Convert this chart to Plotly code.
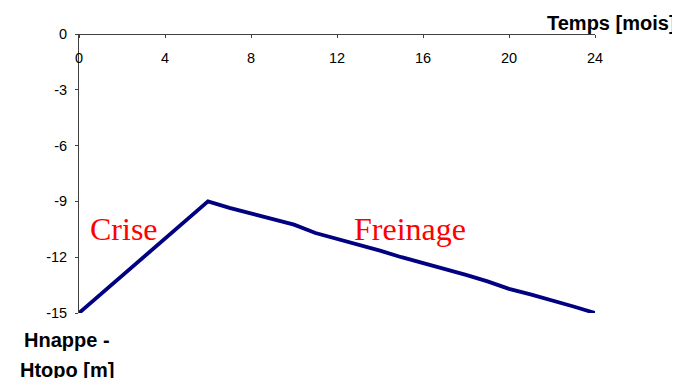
import plotly.graph_objects as go

months = list(range(0, 25))
depth = [-15, -14, -13, -12, -11, -10, -9, -9.35, -9.65, -9.95, -10.25, -10.7,
         -11.0, -11.3, -11.65, -12.0, -12.3, -12.6, -12.95, -13.3, -13.7, -14.0,
         -14.3, -14.65, -15]
x_ticks = [0, 4, 8, 12, 16, 20, 24]
y_ticks = [0, -3, -6, -9, -12, -15]
y_tick_labels = ["0", "-3", "-6", "-9", "-12", "-15"]

fig = go.Figure()
fig.add_trace(go.Scatter(x=months, y=depth, mode="lines",
                         line=dict(color="#000080", width=3.8), showlegend=False,
                         hoverinfo="skip"))

axis_font = dict(size=14.5, color="black", family="Arial, Liberation Sans, sans-serif")
title_font = dict(size=20, color="black", family="Arial, Liberation Sans, sans-serif")
fig.update_layout(
    width=672, height=370,
    margin=dict(l=71, r=85, t=26, b=65),
    paper_bgcolor="white", plot_bgcolor="white",
    font=dict(family="Arial, Liberation Sans, sans-serif", size=12, color="black"),
    xaxis=dict(range=[0, 24], anchor="free", position=1, side="bottom",
               tickvals=x_ticks, ticktext=[str(v) for v in x_ticks],
               showline=True, linecolor="#404040", linewidth=1,
               ticks="outside", ticklen=3, tickcolor="#404040",
               ticklabelstandoff=8, automargin=False,
               showgrid=False, zeroline=False, tickfont=axis_font),
    yaxis=dict(range=[-15, 0], tickvals=y_ticks, ticktext=y_tick_labels,
               showline=True, linecolor="#404040", linewidth=1,
               ticks="outside", ticklen=3, tickcolor="#404040", automargin=False,
               ticklabelstandoff=5,
               showgrid=False, zeroline=False, tickfont=axis_font),
    annotations=[
        dict(text="<b>Temps [mois]</b>", xref="paper", yref="paper", x=1.16, y=1.0,
             xanchor="right", yanchor="middle", yshift=11, showarrow=False,
             font=title_font),
        dict(text="<b>Hnappe -</b>", xref="paper", yref="paper", x=-0.023, y=0,
             xanchor="center", yanchor="middle", yshift=-27, showarrow=False,
             font=title_font),
        dict(text="<b>Htopo [m]</b>", xref="paper", yref="paper", x=-0.023, y=0,
             xanchor="center", yanchor="middle", yshift=-57, showarrow=False,
             font=title_font),
        dict(text="Crise", x=0.4, y=-10.5, xref="x", yref="y", xanchor="left",
             yanchor="middle", showarrow=False,
             font=dict(size=32, color="red", family="Liberation Serif, Times New Roman, serif")),
        dict(text="Freinage", x=12.7, y=-10.5, xref="x", yref="y", xanchor="left",
             yanchor="middle", showarrow=False,
             font=dict(size=32, color="red", family="Liberation Serif, Times New Roman, serif")),
    ],
)

fig.write_html("out.html")
